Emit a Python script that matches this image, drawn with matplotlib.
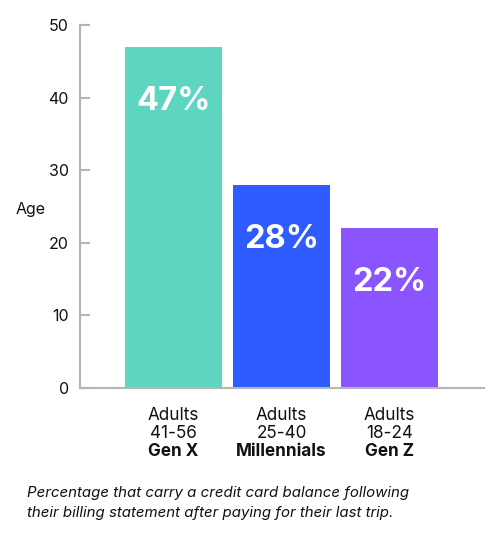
import matplotlib
matplotlib.use("Agg")
import matplotlib.pyplot as plt

categories = ["Gen X", "Millennials", "Gen Z"]
age_lines = ["Adults", "Adults", "Adults"]
age_ranges = ["41-56", "25-40", "18-24"]
values = [47, 28, 22]
colors = ["#5DD5C1", "#2E5CFF", "#8A55FF"]
yticks = [0, 10, 20, 30, 40, 50]
caption = ("Percentage that carry a credit card balance following\n"
           "their billing statement after paying for their last trip.")

plt.rcParams['font.family'] = ['Inter', 'DejaVu Sans']

fig = plt.figure(figsize=(5.0, 5.37), dpi=100)
W, H = 500, 537
ax = fig.add_axes([80 / W, 1 - 388 / H, 404 / W, (388 - 25) / H])

x = list(range(len(values)))
ax.bar(x, values, width=0.9, color=colors, zorder=2)
ax.set_xlim(-0.866, 2.875)
ax.set_ylim(0, 50)
ax.set_yticks(yticks)
ax.set_xticks([])
for s in ["top", "right"]:
    ax.spines[s].set_visible(False)
for s in ["left", "bottom"]:
    ax.spines[s].set_color("#b5b5b5")
    ax.spines[s].set_linewidth(1.5)
ax.tick_params(axis="y", direction="in", length=7, width=1.5, color="#b5b5b5",
               labelsize=11.5, pad=8, labelcolor="#111111")

for xi, v in zip(x, values):
    ax.text(xi, v - 7.5, f"{v}%", ha="center", va="center", color="white",
            fontsize=23.5, fontweight="bold")

fig.text(16 / W, 1 - 210 / H, "Age", ha="left", va="center", fontsize=11.5, color="#111111")

for xi, a, r, c in zip(x, age_lines, age_ranges, categories):
    xf = ax.transData.transform((xi, 0))[0] / (W)
    fig.text(xf, 1 - 415 / H, a, ha="center", va="center", fontsize=12.3, color="#111111")
    fig.text(xf, 1 - 433 / H, r, ha="center", va="center", fontsize=12.3, color="#111111")
    fig.text(xf, 1 - 451 / H, c, ha="center", va="center", fontsize=12.3,
             fontweight="bold", color="#111111")

fig.text(27 / W, 1 - 503 / H, caption, ha="left", va="center", fontsize=10.8,
         style="italic", color="#111111", linespacing=1.6)

fig.savefig("out.png", dpi=100)
